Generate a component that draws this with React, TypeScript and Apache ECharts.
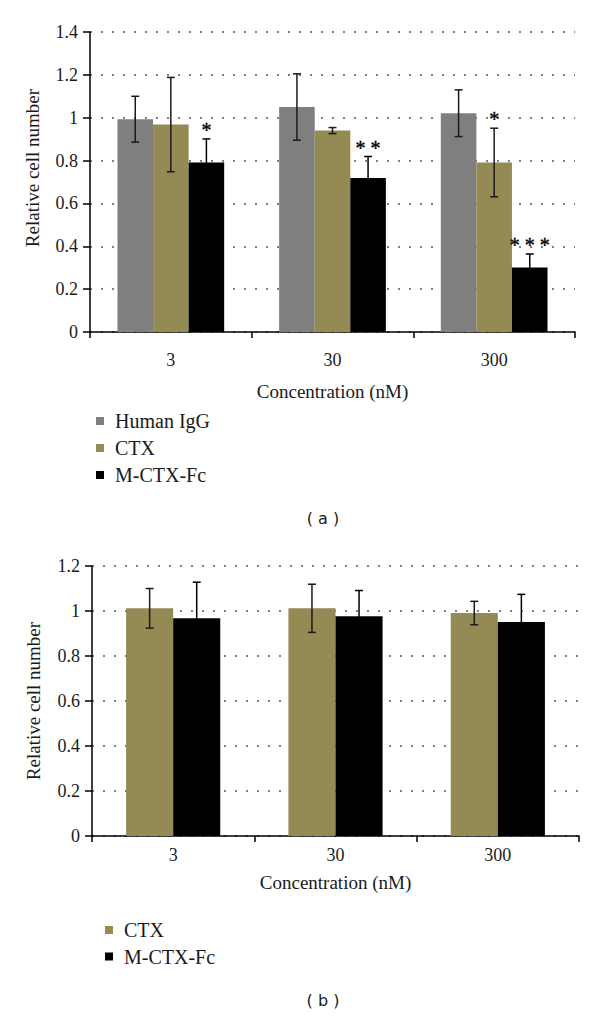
import React, { useEffect, useRef } from "react";
import * as echarts from "echarts";

const categories = ["3", "30", "300"];
const namesA = ["Human IgG", "CTX", "M-CTX-Fc"];
const namesB = ["CTX", "M-CTX-Fc"];

// Panel (a)
const iggA = [0.993, 1.05, 1.021];
const iggAErr = [0.107, 0.155, 0.109];
const ctxA = [0.968, 0.94, 0.791];
const ctxAErr = [0.22, 0.014, 0.16];
const mctxA = [0.791, 0.719, 0.301];
const mctxAErr = [0.11, 0.1, 0.063];
const iggAStars = ["", "", ""];
const ctxAStars = ["", "", "*"];
const mctxAStars = ["*", "* *", "* * *"];

// Panel (b)
const ctxB = [1.012, 1.012, 0.991];
const ctxBErr = [0.088, 0.107, 0.052];
const mctxB = [0.968, 0.977, 0.951];
const mctxBErr = [0.16, 0.114, 0.123];
const noStars = ["", "", ""];

const COLORS = { igg: "#7f7f7f", ctx: "#948a54", mctx: "#000000" };
const SERIF = "Liberation Serif";
const SANS = "DejaVu Sans";
const TEXT = "#1a1a1a";

const GAP_A = 0.34;
const GAP_B = 0.42;

function barSeries(name: string, data: number[], color: string, axis: number, gap: number) {
  return {
    type: "bar",
    name,
    data,
    xAxisIndex: axis,
    yAxisIndex: axis,
    barGap: "0%",
    barCategoryGap: `${gap * 100}%`,
    itemStyle: { color },
    z: 2,
  };
}

function errSeries(
  values: number[],
  errs: number[],
  stars: string[],
  idx: number,
  n: number,
  gap: number,
  axis: number,
  key: string,
  stroke: string
) {
  return {
    type: "custom",
    name: "err-" + key,
    xAxisIndex: axis,
    yAxisIndex: axis,
    z: 5,
    silent: true,
    data: values.map((v, i) => [i, v - errs[i], v + errs[i]]),
    renderItem: (params: any, api: any) => {
      const c = api.value(0);
      const lo = api.coord([c, api.value(1)]);
      const hi = api.coord([c, api.value(2)]);
      const band = api.size([1, 0])[0];
      const bw = (band * (1 - gap)) / n;
      const x = lo[0] + (idx - (n - 1) / 2) * bw;
      const cap = 4;
      const st = { stroke, lineWidth: 1.5 };
      const children: any[] = [
        { type: "line", shape: { x1: x, y1: lo[1], x2: x, y2: hi[1] }, style: st },
        { type: "line", shape: { x1: x - cap, y1: lo[1], x2: x + cap, y2: lo[1] }, style: st },
        { type: "line", shape: { x1: x - cap, y1: hi[1], x2: x + cap, y2: hi[1] }, style: st },
      ];
      const s = stars[params.dataIndex];
      if (s) {
        children.push({
          type: "text",
          x,
          y: hi[1] + 1,
          style: {
            text: s,
            fill: "#000",
            stroke: "#000",
            lineWidth: 0.4,
            fontFamily: SERIF,
            fontSize: 20,
            align: "center",
            verticalAlign: "bottom",
          },
        });
      }
      return { type: "group", children };
    },
  };
}

function yAxisDef(grid: number, max: number, nameGap: number, shiftUp: number) {
  return {
    type: "value",
    gridIndex: grid,
    min: 0,
    max,
    interval: 0.2,
    name: "Relative cell number",
    nameLocation: "middle",
    nameRotate: 90,
    nameGap,
    nameTextStyle: {
      fontFamily: SERIF,
      fontSize: 19,
      color: TEXT,
      padding: [0, 0, 0, shiftUp * 2],
    },
    axisLine: { show: true, lineStyle: { color: "#000", width: 1.5 } },
    axisTick: { show: true, length: 7, lineStyle: { color: "#000", width: 1.5 } },
    axisLabel: {
      fontFamily: SERIF,
      fontSize: 18,
      color: TEXT,
      margin: 12,
      formatter: (v: number) => (Math.round(v * 10) / 10).toString(),
    },
    splitLine: {
      show: true,
      lineStyle: { type: [2, 9], color: "#555", width: 1.5 },
    },
  };
}

function xAxisDef(grid: number, labelMargin: number, nameGap: number) {
  return {
    type: "category",
    gridIndex: grid,
    data: categories,
    name: "Concentration (nM)",
    nameLocation: "middle",
    nameGap,
    nameTextStyle: { fontFamily: SERIF, fontSize: 19, color: TEXT },
    axisLine: { show: true, lineStyle: { color: "#000", width: 1.5 } },
    axisTick: { show: true, length: 6, lineStyle: { color: "#000", width: 1.5 } },
    axisLabel: { fontFamily: SERIF, fontSize: 18, color: TEXT, margin: labelMargin },
    splitLine: { show: false },
  };
}

function legendDef(data: string[], left: number, top: number, gap: number) {
  return {
    data,
    orient: "vertical",
    left,
    top,
    padding: 0,
    itemWidth: 8,
    itemHeight: 8,
    itemGap: gap,
    icon: "rect",
    selectedMode: false,
    textStyle: { fontFamily: SERIF, fontSize: 20, lineHeight: 18, color: TEXT, padding: [0, 0, 0, 6] },
  };
}

export default function App() {
  const ref = useRef<HTMLDivElement>(null);
  useEffect(() => {
    if (!ref.current) return;
    const chart = echarts.init(ref.current, undefined, { renderer: "svg" });
    chart.setOption({
      animation: false,
      backgroundColor: "#ffffff",
      grid: [
        { left: 90, top: 32, width: 485, height: 300 },
        { left: 92, top: 566, width: 487, height: 270 },
      ],
      xAxis: [xAxisDef(0, 19, 50), xAxisDef(1, 10, 37)],
      yAxis: [yAxisDef(0, 1.4, 48, 14), yAxisDef(1, 1.2, 49, 0)],
      legend: [legendDef(namesA, 96, 411, 7), legendDef(namesB, 105, 920, 6.5)],
      graphic: [
        {
          type: "text",
          x: 323,
          y: 518,
          style: { text: "( a )", fontFamily: SANS, fontSize: 16, fill: TEXT, align: "center", verticalAlign: "middle" },
        },
        {
          type: "text",
          x: 323,
          y: 1000,
          style: { text: "( b )", fontFamily: SANS, fontSize: 16, fill: TEXT, align: "center", verticalAlign: "middle" },
        },
      ],
      series: [
        barSeries("Human IgG", iggA, COLORS.igg, 0, GAP_A),
        barSeries("CTX", ctxA, COLORS.ctx, 0, GAP_A),
        barSeries("M-CTX-Fc", mctxA, COLORS.mctx, 0, GAP_A),
        errSeries(iggA, iggAErr, iggAStars, 0, 3, GAP_A, 0, "a0", "#1a1a1a"),
        errSeries(ctxA, ctxAErr, ctxAStars, 1, 3, GAP_A, 0, "a1", "#1a1a1a"),
        errSeries(mctxA, mctxAErr, mctxAStars, 2, 3, GAP_A, 0, "a2", "#000"),
        barSeries("CTX", ctxB, COLORS.ctx, 1, GAP_B),
        barSeries("M-CTX-Fc", mctxB, COLORS.mctx, 1, GAP_B),
        errSeries(ctxB, ctxBErr, noStars, 0, 2, GAP_B, 1, "b0", "#1a1a1a"),
        errSeries(mctxB, mctxBErr, noStars, 1, 2, GAP_B, 1, "b1", "#000"),
      ],
    });
    return () => chart.dispose();
  }, []);
  return (
    <div
      ref={ref}
      style={{ position: "absolute", left: 0, top: 0, width: 600, height: 1016, background: "#fff" }}
    />
  );
}
